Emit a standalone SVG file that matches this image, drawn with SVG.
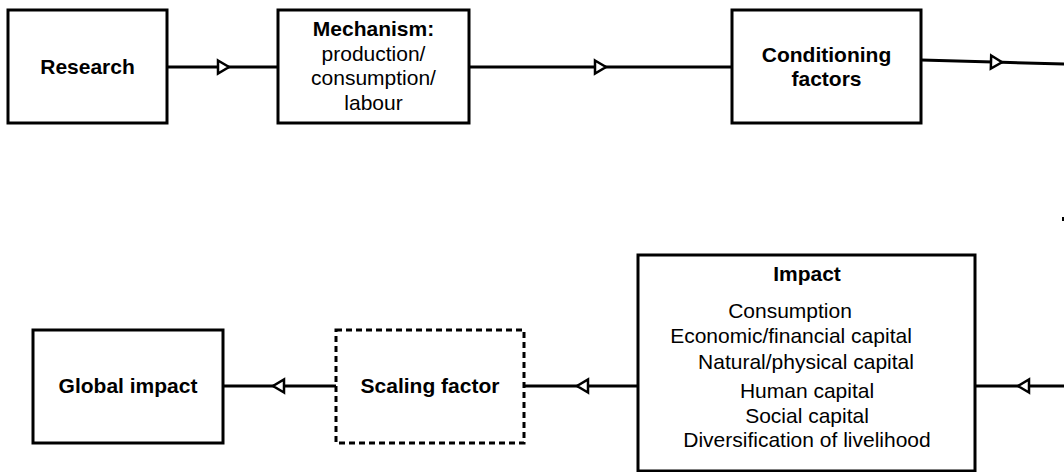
<svg xmlns="http://www.w3.org/2000/svg" width="1064" height="472" viewBox="0 0 1064 472">
<style>
  .box{fill:#fff;stroke:#000;stroke-width:3}
  .dash{fill:#fff;stroke:#000;stroke-width:3;stroke-dasharray:6 4}
  .t{font-family:"Liberation Sans",Arial,sans-serif;font-size:21px;fill:#000;text-anchor:middle}
  .b{font-weight:bold}
  .c{fill:none;stroke:#000;stroke-width:3;marker-mid:url(#tri)}
</style>
<defs>
  <marker id="tri" markerUnits="userSpaceOnUse" markerWidth="16" markerHeight="18" refX="13" refY="8" orient="auto" overflow="visible">
    <path d="M2 1.5 L13 8 L2 14.5 Z" fill="#fff" stroke="#000" stroke-width="2.5" stroke-linejoin="miter"/>
  </marker>
</defs>
<rect width="1064" height="472" fill="#fff"/>
<g id="connectors">
  <path class="c" d="M167 67 L229 67 L278 67"/>
  <path class="c" d="M469 67 L606 67 L732 67"/>
  <path class="c" d="M921 60 L1002 62.3 L1066 64"/>
  <path class="c" d="M1066 386 L1018 386 L975 386"/>
  <path class="c" d="M638 386 L577 386 L524 386"/>
  <path class="c" d="M336 386 L273 386 L223 386"/>
  <rect x="1062" y="217" width="2" height="4" fill="#000"/>
</g>
<g id="research">
  <rect class="box" x="8" y="10" width="159" height="113"/>
  <text class="t b" x="87.5" y="74">Research</text>
</g>
<g id="mechanism">
  <rect class="box" x="278" y="10" width="191" height="113"/>
  <text class="t b" x="373.5" y="36">Mechanism:</text>
  <text class="t" x="373.5" y="61">production/</text>
  <text class="t" x="373.5" y="85">consumption/</text>
  <text class="t" x="373.5" y="110">labour</text>
</g>
<g id="conditioning">
  <rect class="box" x="732" y="10" width="189" height="113"/>
  <text class="t b" x="826.5" y="62">Conditioning</text>
  <text class="t b" x="826.5" y="86">factors</text>
</g>
<g id="impact">
  <rect class="box" x="638" y="255" width="337" height="216"/>
  <text class="t b" x="807" y="281">Impact</text>
  <text class="t" x="790" y="318">Consumption</text>
  <text class="t" x="791" y="343">Economic/financial capital</text>
  <text class="t" x="806" y="369">Natural/physical capital</text>
  <text class="t" x="807" y="398">Human capital</text>
  <text class="t" x="807" y="423">Social capital</text>
  <text class="t" x="807" y="447">Diversification of livelihood</text>
</g>
<g id="scaling">
  <rect class="dash" x="336" y="330" width="188" height="113"/>
  <text class="t b" x="430" y="393">Scaling factor</text>
</g>
<g id="global">
  <rect class="box" x="33" y="330" width="190" height="113"/>
  <text class="t b" x="128" y="393">Global impact</text>
</g>
</svg>
